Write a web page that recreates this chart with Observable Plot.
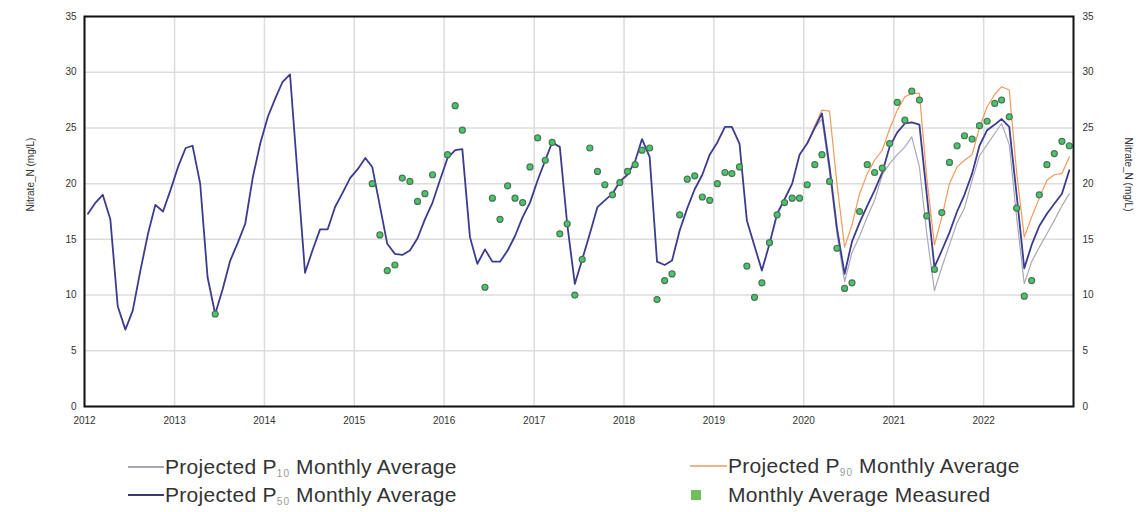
<!DOCTYPE html>
<html>
<head>
<meta charset="utf-8">
<script src="https://cdn.jsdelivr.net/npm/d3@7"></script>
<script src="https://cdn.jsdelivr.net/npm/@observablehq/plot@0.6"></script>
<style>
  body { margin: 0; background: #fff; font-family: "Liberation Sans", Arial, sans-serif; }
  #chart svg { display: block; }
  #legend { position: relative; width: 1144px; height: 72px; }
  .item { position: absolute; font-size: 21px; color: #333; line-height: 24px; white-space: nowrap; letter-spacing: 0.3px; }
  .sw { position: absolute; }
  .sub { font-size: 10px; color: #999; vertical-align: -3px; letter-spacing: 1px; }
</style>
</head>
<body>
<div id="chart"></div>
<div id="legend">
  <div class="sw" style="left:128px; top:26px; width:36px; height:2px; background:#a7a7b4"></div>
  <div class="item" style="left:165px; top:15px">Projected P<span class="sub">10</span> Monthly Average</div>
  <div class="sw" style="left:128px; top:54px; width:36px; height:2px; background:#3a3a6e"></div>
  <div class="item" style="left:165px; top:43px">Projected P<span class="sub">50</span> Monthly Average</div>
  <div class="sw" style="left:690px; top:25px; width:37px; height:2px; background:#f4b08a"></div>
  <div class="item" style="left:728px; top:14px">Projected P<span class="sub">90</span> Monthly Average</div>
  <div class="sw" style="left:691px; top:50px; width:10px; height:10px; background:#6fbf5f"></div>
  <div class="item" style="left:728px; top:43px">Monthly Average Measured</div>
</div>
<script>
// ---------- data ----------
const startYear = 2012;
const yearTicks = [2012, 2013, 2014, 2015, 2016, 2017, 2018, 2019, 2020, 2021, 2022];
const yTicks = [0, 5, 10, 15, 20, 25, 30, 35];

// Projected P50 monthly average, Jan 2012 .. Dec 2022
const p50 = [
  17.3, 18.3, 19.0, 16.8, 9.0, 6.9, 8.6, 12.2, 15.5, 18.1, 17.5, 19.4,   // 2012
  21.5, 23.2, 23.4, 20.0, 11.6, 8.3, 10.5, 13.1, 14.7, 16.4, 20.6, 23.6, // 2013
  26.0, 27.7, 29.1, 29.8, 21.0, 12.0, 14.0, 15.9, 15.9, 17.9, 19.2, 20.5,// 2014
  21.3, 22.3, 21.5, 18.0, 14.6, 13.7, 13.6, 14.0, 15.1, 16.8, 18.3, 20.3,// 2015
  22.3, 23.0, 23.1, 15.2, 12.8, 14.1, 13.0, 13.0, 14.0, 15.3, 17.0, 18.3,// 2016
  20.3, 22.1, 23.7, 23.3, 16.4, 11.0, 13.2, 15.5, 17.9, 18.5, 19.1, 20.2,// 2017
  20.8, 22.0, 24.0, 22.4, 13.0, 12.7, 13.1, 15.8, 17.8, 19.5, 20.8, 22.6,// 2018
  23.7, 25.1, 25.1, 23.6, 16.7, 14.4, 12.2, 14.6, 17.3, 18.6, 20.0, 22.6,// 2019
  23.6, 25.0, 26.3, 21.5, 16.0, 11.9, 14.8, 16.5, 18.0, 19.4, 21.0, 23.3,// 2020
  24.6, 25.4, 25.5, 25.3, 19.0, 12.5, 14.0, 15.6, 17.5, 19.0, 20.9, 23.4,// 2021
  24.8, 25.3, 25.8, 25.1, 19.0, 12.4, 14.5, 16.2, 17.3, 18.2, 19.1, 21.2 // 2022
];

// Projected P10 / P90 monthly average, Jan 2020 .. Dec 2022
const projStartYear = 2020;
const p10 = [
  23.6, 25.0, 25.8, 21.0, 15.5, 11.2, 13.8, 15.3, 17.0, 18.5, 20.8, 21.8,
  22.6, 23.3, 24.2, 21.5, 15.5, 10.4, 12.5, 14.5, 16.5, 17.8, 20.3, 22.5,
  23.5, 24.5, 25.4, 23.5, 17.0, 11.0, 13.0, 14.3, 15.5, 16.7, 18.0, 19.1
];
const p90 = [
  23.6, 25.2, 26.6, 26.5, 20.0, 14.3, 16.3, 19.1, 20.9, 22.1, 23.0, 24.9,
  26.6, 27.8, 28.1, 28.1, 20.5, 14.5, 17.0, 20.0, 21.5, 22.1, 22.6, 25.0,
  26.9, 28.0, 28.7, 28.4, 21.0, 15.2, 17.0, 18.7, 20.3, 20.8, 20.9, 22.4
];

// Monthly average measured
const measuredMonths = [
  "2013-06",
  "2015-03","2015-04","2015-05","2015-06","2015-07","2015-08","2015-09","2015-10","2015-11",
  "2016-01","2016-02","2016-03","2016-06","2016-07","2016-08","2016-09","2016-10","2016-11","2016-12",
  "2017-01","2017-02","2017-03","2017-04","2017-05","2017-06","2017-07","2017-08","2017-09","2017-10","2017-11","2017-12",
  "2018-01","2018-02","2018-03","2018-04","2018-05","2018-06","2018-07","2018-08","2018-09","2018-10","2018-11","2018-12",
  "2019-01","2019-02","2019-03","2019-04","2019-05","2019-06","2019-07","2019-08","2019-09","2019-10","2019-11","2019-12",
  "2020-01","2020-02","2020-03","2020-04","2020-05","2020-06","2020-07","2020-08","2020-09","2020-10","2020-11","2020-12",
  "2021-01","2021-02","2021-03","2021-04","2021-05","2021-06","2021-07","2021-08","2021-09","2021-10","2021-11","2021-12",
  "2022-01","2022-02","2022-03","2022-04","2022-05","2022-06","2022-07","2022-08","2022-09","2022-10","2022-11","2022-12"
];
const measuredValues = [
  8.3,
  20.0, 15.4, 12.2, 12.7, 20.5, 20.2, 18.4, 19.1, 20.8,
  22.6, 27.0, 24.8, 10.7, 18.7, 16.8, 19.8, 18.7, 18.3, 21.5,
  24.1, 22.1, 23.7, 15.5, 16.4, 10.0, 13.2, 23.2, 21.1, 19.9, 19.0, 20.1,
  21.1, 21.7, 23.0, 23.2, 9.6, 11.3, 11.9, 17.2, 20.4, 20.7, 18.8, 18.5,
  20.0, 21.0, 20.9, 21.5, 12.6, 9.8, 11.1, 14.7, 17.2, 18.3, 18.7, 18.7,
  19.9, 21.7, 22.6, 20.2, 14.2, 10.6, 11.1, 17.5, 21.7, 21.0, 21.4, 23.6,
  27.3, 25.7, 28.3, 27.5, 17.1, 12.3, 17.4, 21.9, 23.4, 24.3, 24.0, 25.2,
  25.6, 27.2, 27.5, 26.0, 17.8, 9.9, 11.3, 19.0, 21.7, 22.7, 23.8, 23.4
];

// ---------- tables ----------
const midMonth = (y, m) => new Date(Date.UTC(y, m, 15));
const p50Data = p50.map((v, i) => ({date: midMonth(startYear, i), value: v}));
const p10Data = p10.map((v, i) => ({date: midMonth(projStartYear, i), value: v}));
const p90Data = p90.map((v, i) => ({date: midMonth(projStartYear, i), value: v}));
const measured = measuredMonths.map((s, i) => {
  const [y, m] = s.split("-").map(Number);
  return {date: midMonth(y, m - 1), value: measuredValues[i]};
});
const yearDates = yearTicks.map(y => new Date(Date.UTC(y, 0, 1)));

const chart = Plot.plot({
  width: 1144,
  height: 440,
  marginLeft: 84,
  marginRight: 71,
  marginTop: 16,
  marginBottom: 34,
  x: {type: "utc", domain: [new Date(Date.UTC(2012, 0, 1)), new Date(Date.UTC(2023, 0, 1))]},
  y: {domain: [0, 35]},
  style: {fontFamily: "'Liberation Sans', Arial, sans-serif", fontSize: "10px", color: "#333", background: "#fff"},
  marks: [
    Plot.gridX(yearDates, {stroke: "#dcdcdc", strokeOpacity: 1, strokeWidth: 1.5}),
    Plot.gridY(yTicks, {stroke: "#dcdcdc", strokeOpacity: 1, strokeWidth: 1.5}),
    Plot.axisX(yearDates, {tickSize: 0, tickPadding: 10, tickFormat: d3.utcFormat("%Y"), label: null}),
    Plot.axisY(yTicks, {anchor: "left", tickSize: 0, tickPadding: 8, label: null}),
    Plot.axisY(yTicks, {anchor: "right", tickSize: 0, tickPadding: 9, label: null}),
    Plot.lineY(p10Data, {x: "date", y: "value", stroke: "#a9a9b9", strokeWidth: 1.2}),
    Plot.lineY(p90Data, {x: "date", y: "value", stroke: "#f29a5c", strokeWidth: 1.2}),
    Plot.lineY(p50Data, {x: "date", y: "value", stroke: "#3b3b90", strokeWidth: 1.8}),
    Plot.dot(measured, {x: "date", y: "value", r: 3, fill: "#45c86a", stroke: "#4f7258", strokeWidth: 1.2}),
    Plot.frame({stroke: "#111", strokeWidth: 2}),
    Plot.text(["Nitrate_N (mg/L)"], {text: d => d, frameAnchor: "left", dx: -54, rotate: -90, fontSize: 10, fill: "#333"}),
    Plot.text(["Nitrate_N (mg/L)"], {text: d => d, frameAnchor: "right", dx: 55, rotate: 90, fontSize: 10, fill: "#333"})
  ]
});
document.getElementById("chart").appendChild(chart);
</script>
</body>
</html>
